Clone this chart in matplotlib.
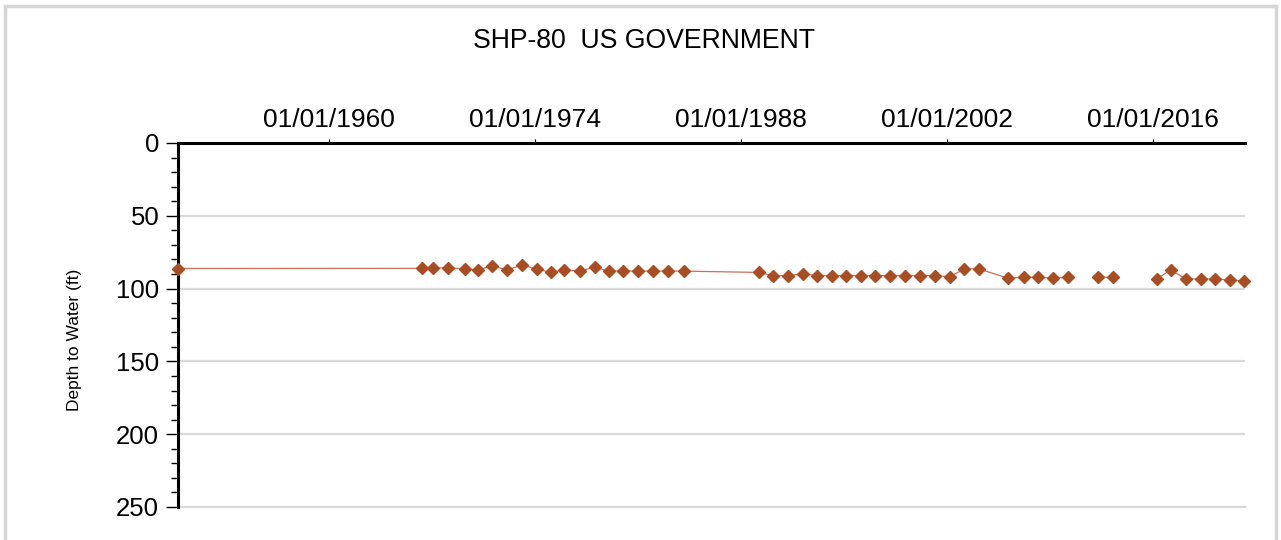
import numpy as np
import matplotlib
matplotlib.use("Agg")
import matplotlib.pyplot as plt
import matplotlib.dates as mdates
from matplotlib.ticker import MultipleLocator
from matplotlib.patches import Rectangle
from datetime import datetime

plt.rcParams['font.family'] = ['Liberation Sans', 'DejaVu Sans']

title = "SHP-80  US GOVERNMENT"
ylabel = "Depth to Water (ft)"

dates = ["1949-09-28", "1966-04-15", "1967-01-15", "1968-01-20", "1969-03-20", "1970-02-15",
         "1971-02-05", "1972-02-05", "1973-02-15", "1974-02-05", "1975-01-25", "1975-12-15",
         "1977-01-15", "1978-01-20", "1979-01-15", "1980-01-01", "1981-01-01", "1982-01-10",
         "1983-01-15", "1984-02-15", "1989-03-20", "1990-03-05", "1991-03-10", "1992-03-15",
         "1993-03-01", "1994-02-20", "1995-02-15", "1996-02-10", "1997-02-15", "1998-02-20",
         "1999-02-15", "2000-02-20", "2001-03-01", "2002-03-05", "2003-03-01", "2004-02-25",
         "2006-02-25", "2007-03-25", "2008-03-10", "2009-03-15", "2010-03-05",
         "2011-06-01",
         "2012-03-25", "2013-04-01",
         "2015-01-01",
         "2016-03-25", "2017-03-05", "2018-03-20", "2019-03-20", "2020-03-10", "2021-03-15",
         "2022-02-28"]
depths = [86.2, 86.1, 86.1, 85.6, 86.5, 87.2,
          84.3, 87.2, 83.8, 86.5, 88.9, 87.2,
          87.7, 85.5, 88.0, 88.0, 88.0, 88.0,
          88.0, 88.0, 88.9, 91.1, 91.1, 89.8,
          91.1, 91.1, 91.1, 91.1, 91.1, 91.1,
          91.1, 91.1, 91.1, 91.8, 86.5, 86.5,
          92.9, 92.2, 92.2, 92.9, 92.2,
          np.nan,
          92.2, 92.2,
          np.nan,
          93.4, 87.2, 93.4, 93.4, 93.4, 94.1,
          94.6]

tick_dates = ["1960-01-01", "1974-01-01", "1988-01-01", "2002-01-01", "2016-01-01"]
x_range = ["1949-09-28", "2022-03-25"]
y_range = [250, 0]

x = [datetime.strptime(d, "%Y-%m-%d") for d in dates]

fig = plt.figure(figsize=(12.81, 5.40), dpi=100)
ax = fig.add_axes([178/1281, 1 - 507/540, (1245 - 178)/1281, (507 - 143)/540])

ax.plot(x, depths, color="#C9705A", linewidth=0.9,
        marker="D", markersize=5.8, markerfacecolor="#A84E22", markeredgecolor="#A84E22",
        zorder=3, clip_on=False)

ax.set_xlim(datetime.strptime(x_range[0], "%Y-%m-%d"), datetime.strptime(x_range[1], "%Y-%m-%d"))
ax.set_ylim(*y_range)

ax.xaxis.tick_top()
ax.set_xticks([datetime.strptime(d, "%Y-%m-%d") for d in tick_dates])
ax.xaxis.set_major_formatter(mdates.DateFormatter("%m/%d/%Y"))
ax.tick_params(axis="x", which="major", direction="out", length=3, width=0.8,
               labelsize=19, pad=5, colors="black")

ax.yaxis.set_major_locator(MultipleLocator(50))
ax.yaxis.set_minor_locator(MultipleLocator(10))
ax.tick_params(axis="y", which="major", direction="out", length=8.5, width=1.0,
               labelsize=18.5, pad=5)
ax.tick_params(axis="y", which="minor", direction="out", length=5, width=1.0)

ax.grid(axis="y", which="major", color="#D9D9D9", linewidth=1.6, zorder=0)
ax.set_axisbelow(True)
ax.axhline(y_range[0], color="#D9D9D9", linewidth=1.6, zorder=0.5, clip_on=False)

for s in ["right", "bottom"]:
    ax.spines[s].set_visible(False)
ax.spines["left"].set_linewidth(2.2)
ax.spines["top"].set_linewidth(2.2)
ax.spines["left"].set_zorder(2)

fig.text(75/1281, 1 - 340/540, ylabel, rotation=90, ha="center", va="center", fontsize=12.5)
fig.text(644/1281, 1 - 41/540, title, ha="center", va="center", fontsize=19.2)

fig.patches.append(Rectangle((5/1281, -0.05), (1276 - 5)/1281, 1 - 6/540 + 0.05,
                             transform=fig.transFigure, fill=False,
                             edgecolor="#D6D6D6", linewidth=2.5))

fig.savefig("out.png", dpi=100)
